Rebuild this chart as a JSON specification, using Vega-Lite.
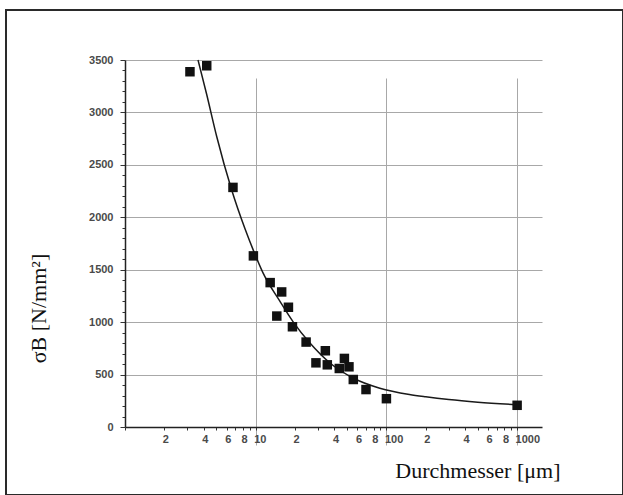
{
  "$schema": "https://vega.github.io/schema/vega-lite/v6.json",
  "width": 617,
  "height": 485,
  "autosize": {"type": "none"},
  "padding": {"left": 6, "top": 10, "right": 0, "bottom": 0},
  "background": "white",
  "config": {"view": {"stroke": "#2a2a2a", "strokeWidth": 2}},
  "datasets": {
    "points": [
      {"d": 3.14, "s": 3388}, {"d": 4.22, "s": 3445}, {"d": 6.7, "s": 2285},
      {"d": 9.6, "s": 1632}, {"d": 12.9, "s": 1377}, {"d": 15.8, "s": 1288},
      {"d": 14.5, "s": 1058}, {"d": 17.8, "s": 1142}, {"d": 19.1, "s": 956},
      {"d": 24.3, "s": 810}, {"d": 28.9, "s": 612}, {"d": 34.1, "s": 727},
      {"d": 35.3, "s": 593}, {"d": 43.6, "s": 558}, {"d": 47.7, "s": 654},
      {"d": 51.7, "s": 574}, {"d": 55.8, "s": 453}, {"d": 69.8, "s": 357},
      {"d": 100, "s": 270}, {"d": 1000, "s": 207}
    ],
    "curve": [
      {"d": 3.62, "s": 3500}, {"d": 4.2, "s": 3180}, {"d": 5.03, "s": 2770},
      {"d": 6.55, "s": 2260}, {"d": 8.28, "s": 1890}, {"d": 9.7, "s": 1670},
      {"d": 11.4, "s": 1467}, {"d": 15.3, "s": 1200}, {"d": 19.4, "s": 1000},
      {"d": 26, "s": 800}, {"d": 37, "s": 610}, {"d": 56, "s": 465},
      {"d": 89, "s": 370}, {"d": 150, "s": 310}, {"d": 200, "s": 288},
      {"d": 300, "s": 262}, {"d": 500, "s": 237}, {"d": 1000, "s": 212}
    ]
  },
  "encoding": {
    "x": {
      "field": "d",
      "type": "quantitative",
      "scale": {"type": "log", "domain": [1, 1550], "range": [119, 536], "nice": false},
      "axis": {
        "offset": -68,
        "values": [1, 2, 3, 4, 5, 6, 7, 8, 9, 10, 20, 30, 40, 50, 60, 70, 80, 90, 100, 200, 300, 400, 500, 600, 700, 800, 900, 1000],
        "format": "d",
        "labelExpr": "datum.value == 10 || datum.value == 100 || datum.value == 1000 ? datum.label : (indexof([2,4,6,8,20,40,60,80,200,400,600,800], datum.value) >= 0 ? substring(datum.label, 0, 1) : '')",
        "labelAlign": "left",
        "labelOffset": -2,
        "labelPadding": 3,
        "labelOverlap": false,
        "labelFlush": false,
        "labelFont": "Liberation Sans Narrow, Liberation Sans, sans-serif",
        "labelFontSize": 11,
        "labelFontWeight": "bold",
        "labelColor": "#4a4a4a",
        "tickSize": 3,
        "tickColor": "#333333",
        "domainColor": "#222222",
        "domainWidth": 1.5,
        "grid": true,
        "gridColor": "#a8a8a8",
        "gridWidth": 1,
        "gridOpacity": {"condition": {"test": "datum.value == 10 || datum.value == 100 || datum.value == 1000", "value": 1}, "value": 0},
        "title": "Durchmesser [μm]",
        "titleFont": "Liberation Serif",
        "titleFontSize": 22,
        "titleFontWeight": "normal",
        "titleColor": "#111111",
        "titleAlign": "right",
        "titleBaseline": "alphabetic",
        "titleX": 554,
        "titleY": 50
      }
    },
    "y": {
      "field": "s",
      "type": "quantitative",
      "scale": {"domain": [0, 3500], "range": [417, 50], "nice": false, "zero": true},
      "axis": {
        "offset": -119,
        "values": [0,100,200,300,400,500,600,700,800,900,1000,1100,1200,1300,1400,1500,1600,1700,1800,1900,2000,2100,2200,2300,2400,2500,2600,2700,2800,2900,3000,3100,3200,3300,3400,3500],
        "format": "d",
        "labelExpr": "datum.value % 500 == 0 ? datum.label : ''",
        "labelPadding": 7,
        "labelOverlap": false,
        "labelFlush": false,
        "labelFont": "Liberation Sans Narrow, Liberation Sans, sans-serif",
        "labelFontSize": 11,
        "labelFontWeight": "bold",
        "labelColor": "#4a4a4a",
        "tickSize": {"condition": {"test": "datum.value % 500 == 0", "value": 5}, "value": 3},
        "tickColor": "#333333",
        "domainColor": "#222222",
        "domainWidth": 1.5,
        "grid": true,
        "gridColor": "#a8a8a8",
        "gridWidth": 1,
        "gridOpacity": {"condition": {"test": "datum.value % 500 == 0 && datum.value > 0", "value": 1}, "value": 0},
        "title": "σB [N/mm²]",
        "titleFont": "Liberation Serif",
        "titleFontSize": 22,
        "titleFontWeight": "normal",
        "titleColor": "#111111",
        "titleAngle": 270,
        "titleAlign": "center",
        "titleBaseline": "alphabetic",
        "titleX": -80,
        "titleY": 298
      }
    }
  },
  "layer": [
    {
      "data": {"name": "curve"},
      "mark": {"type": "line", "color": "#1a1a1a", "strokeWidth": 1.5, "interpolate": "monotone"}
    },
    {
      "data": {"name": "points"},
      "mark": {"type": "square", "size": 90, "color": "#111111", "opacity": 1, "filled": true}
    }
  ]
}
